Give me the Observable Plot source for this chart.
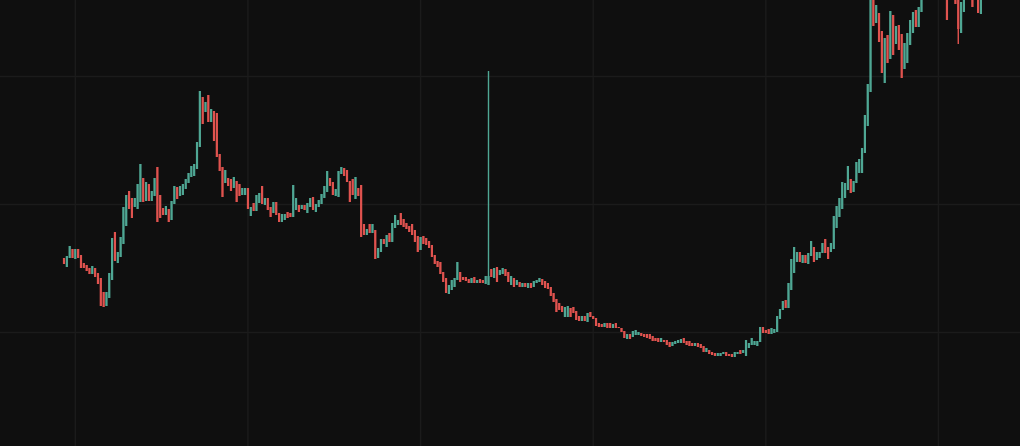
<!DOCTYPE html>
<html><head><meta charset="utf-8">
<script src="https://cdn.jsdelivr.net/npm/d3@7"></script>
<script src="https://cdn.jsdelivr.net/npm/@observablehq/plot@0.6"></script>
<style>html,body{margin:0;padding:0;background:#0f0f0f;overflow:hidden}</style>
</head><body><div id="chart"></div>
<script>
const open = [
202,193,202,211,201,211,205,197,195,192,
186,192,187,182,168,154,162,180,228,197,
203,216,234,269,262,253,251,258,282,259,
276,259,264,293,265,252,245,251,240,256,
273,264,265,271,277,283,284,291,313,363,
348,365,338,349,347,306,293,277,282,281,
272,279,276,265,265,272,244,257,249,257,
274,255,262,253,247,258,247,238,240,248,
247,243,250,255,251,255,247,253,263,248,
253,256,262,268,282,278,264,263,286,292,
290,279,281,261,272,275,236,225,236,227,
230,202,208,221,213,227,218,232,235,247,
241,237,234,236,230,224,210,224,222,219,
215,205,199,198,188,182,166,170,173,180,
188,183,183,181,177,183,177,181,180,176,
175,191,182,193,185,186,191,188,175,182,
175,178,173,177,172,177,173,177,178,181,
179,177,173,167,161,157,154,143,143,152,
153,149,144,139,144,138,148,144,142,137,
136,133,137,137,132,137,133,132,129,121,
126,123,125,125,127,126,126,126,124,122,
122,118,120,120,118,114,116,117,117,122,
119,119,117,114,117,116,114,108,110,108,
107,104,104,106,108,106,106,103,106,110,
107,104,112,115,115,114,118,133,130,131,
126,127,128,141,150,160,152,170,187,198,
208,197,205,196,204,213,200,202,207,221,
213,208,211,232,243,251,262,270,281,268,
277,287,287,307,334,368,476,437,447,429,
377,425,401,445,416,435,426,391,397,415,
427,450,433,448,472,485,478,492,484,495,
488,482,474,462,476,472,466,427,448,470,
480,472,462,472,446];
const close = [
196,204,214,202,211,202,192,192,189,186,
194,183,176,154,153,168,187,222,199,208,
223,253,265,251,242,262,276,296,258,278,
259,269,282,238,242,245,254,238,259,274,
261,274,276,281,287,294,296,318,369,336,
358,338,351,319,303,289,263,290,274,269,
283,258,264,272,272,251,253,249,265,267,
256,262,250,243,258,245,238,246,246,242,
243,275,262,248,255,250,257,262,250,256,
260,266,274,289,274,265,271,289,293,284,
278,258,265,283,264,223,225,231,227,236,
201,212,221,216,225,218,237,245,240,235,
233,231,228,225,218,208,223,216,215,212,
203,196,193,186,178,167,175,180,182,198,
178,180,179,177,182,177,180,177,177,184,
184,183,192,178,190,192,184,178,184,173,
180,173,177,173,177,172,179,180,182,175,
172,171,164,158,148,150,148,153,154,143,
147,140,139,144,139,147,143,141,134,133,
133,137,132,132,136,132,132,128,122,126,
121,129,130,128,124,123,122,121,119,119,
118,122,118,115,113,118,119,120,121,117,
115,114,114,117,113,112,108,112,106,105,
104,107,107,108,104,104,103,108,108,106,
110,120,117,122,119,119,133,127,127,126,
132,131,144,151,159,152,177,201,213,208,
198,205,197,207,219,198,208,208,217,207,
201,217,244,254,262,278,277,294,267,279,
298,301,312,345,376,478,434,455,418,387,
422,397,449,405,434,410,382,417,427,440,
448,433,453,472,485,478,492,484,495,488,
482,474,440,476,470,456,431,458,470,480,
472,453,470,447,470];
const high = [
202,204,214,211,211,211,205,197,195,192,
194,192,187,182,168,168,187,222,228,208,
223,253,265,269,262,262,276,296,282,278,
276,269,282,293,265,252,254,251,259,274,
273,274,276,281,287,294,296,318,369,363,
358,365,351,349,347,306,293,290,282,281,
283,279,276,272,272,272,253,257,265,267,
274,262,262,253,258,258,247,246,246,248,
247,275,262,255,255,255,257,262,263,256,
260,266,274,289,282,278,271,289,293,292,
290,279,281,283,272,275,236,231,236,236,
230,212,221,221,225,227,237,245,240,247,
241,237,234,236,230,224,223,224,222,219,
215,205,199,198,188,182,175,180,182,198,
188,183,183,181,182,183,180,181,180,184,
389,191,192,193,190,192,191,188,184,182,
180,178,177,177,177,177,179,180,182,181,
179,177,173,167,161,157,154,153,154,152,
153,149,144,144,144,147,148,144,142,137,
136,137,137,137,136,137,133,132,129,126,
126,129,130,128,127,126,126,126,124,122,
122,122,120,120,118,118,119,120,121,122,
119,119,117,117,117,116,114,112,110,108,
107,107,107,108,108,106,106,108,108,110,
110,120,117,122,119,119,133,133,130,131,
132,131,144,151,159,160,177,201,213,208,
208,205,205,207,219,213,208,208,217,221,
213,217,244,254,262,278,277,294,281,279,
298,301,312,345,376,478,476,455,447,429,
422,425,449,445,434,435,426,417,427,440,
448,450,453,472,485,485,492,492,495,495,
488,482,474,476,476,472,466,458,470,480,
480,472,470,472,470];
const low = [
196,193,202,202,201,202,192,192,189,186,
186,183,176,154,153,154,162,180,199,197,
203,216,234,251,242,253,251,258,258,259,
259,259,264,238,242,245,245,238,240,256,
261,264,265,271,277,283,284,291,313,336,
348,338,338,319,303,289,263,277,274,269,
272,258,264,265,265,251,244,249,249,257,
256,255,250,243,247,245,238,238,240,242,
243,243,250,248,251,250,247,253,250,248,
253,256,262,268,274,265,264,263,286,284,
278,258,265,261,264,223,225,225,227,227,
201,202,208,216,213,218,218,232,235,235,
233,231,228,225,218,208,210,216,215,212,
203,196,193,186,178,167,166,170,173,180,
178,180,179,177,177,177,177,177,177,176,
175,183,182,178,185,186,184,178,175,173,
175,173,173,173,172,172,173,177,178,175,
172,171,164,158,148,150,148,143,143,143,
147,140,139,139,139,138,143,141,134,133,
133,133,132,132,132,132,132,128,122,121,
121,123,125,125,124,123,122,121,119,119,
118,118,118,115,113,114,116,117,117,117,
115,114,114,114,113,112,108,108,106,105,
104,104,104,106,104,104,103,103,106,106,
107,104,112,115,115,114,118,127,127,126,
126,127,128,141,150,152,152,170,187,198,
198,197,197,196,204,198,200,202,207,207,
201,208,211,232,243,251,262,270,267,268,
277,287,287,307,334,368,434,437,418,387,
377,397,401,405,416,410,382,391,397,415,
427,433,433,448,472,478,478,484,484,488,
482,474,440,462,470,456,416,427,448,470,
472,453,462,447,446];

const xGrid = [4, 65, 126, 187, 248, 309];
const yGrid = [0, 128, 256, 384];

const UP = "#4fa794";
const DOWN = "#e0534f";
const GRID = "#1b1b1b";
const BG = "#0f0f0f";

const candles = open.map((o, i) => ({
  i, open: o, close: close[i], high: high[i], low: low[i], up: close[i] >= o
}));
const color = d => d.up ? UP : DOWN;

const chart = Plot.plot({
  width: 1020,
  height: 446,
  margin: 0,
  style: {background: BG, overflow: "hidden"},
  x: {domain: [-22.44, 337.99], axis: null},
  y: {domain: [14, 460], axis: null},
  marks: [
    Plot.ruleX(xGrid, {stroke: GRID, strokeWidth: 1.5}),
    Plot.ruleY(yGrid, {stroke: GRID, strokeWidth: 1.5}),
    Plot.ruleX(candles, {x: "i", y1: "low", y2: "high", stroke: color, strokeWidth: 1.4, clip: true}),
    Plot.ruleX(candles, {x: "i", y1: "open", y2: "close", stroke: color, strokeWidth: 2.2, clip: true})
  ]
});
document.getElementById("chart").appendChild(chart);
</script>
</body></html>
